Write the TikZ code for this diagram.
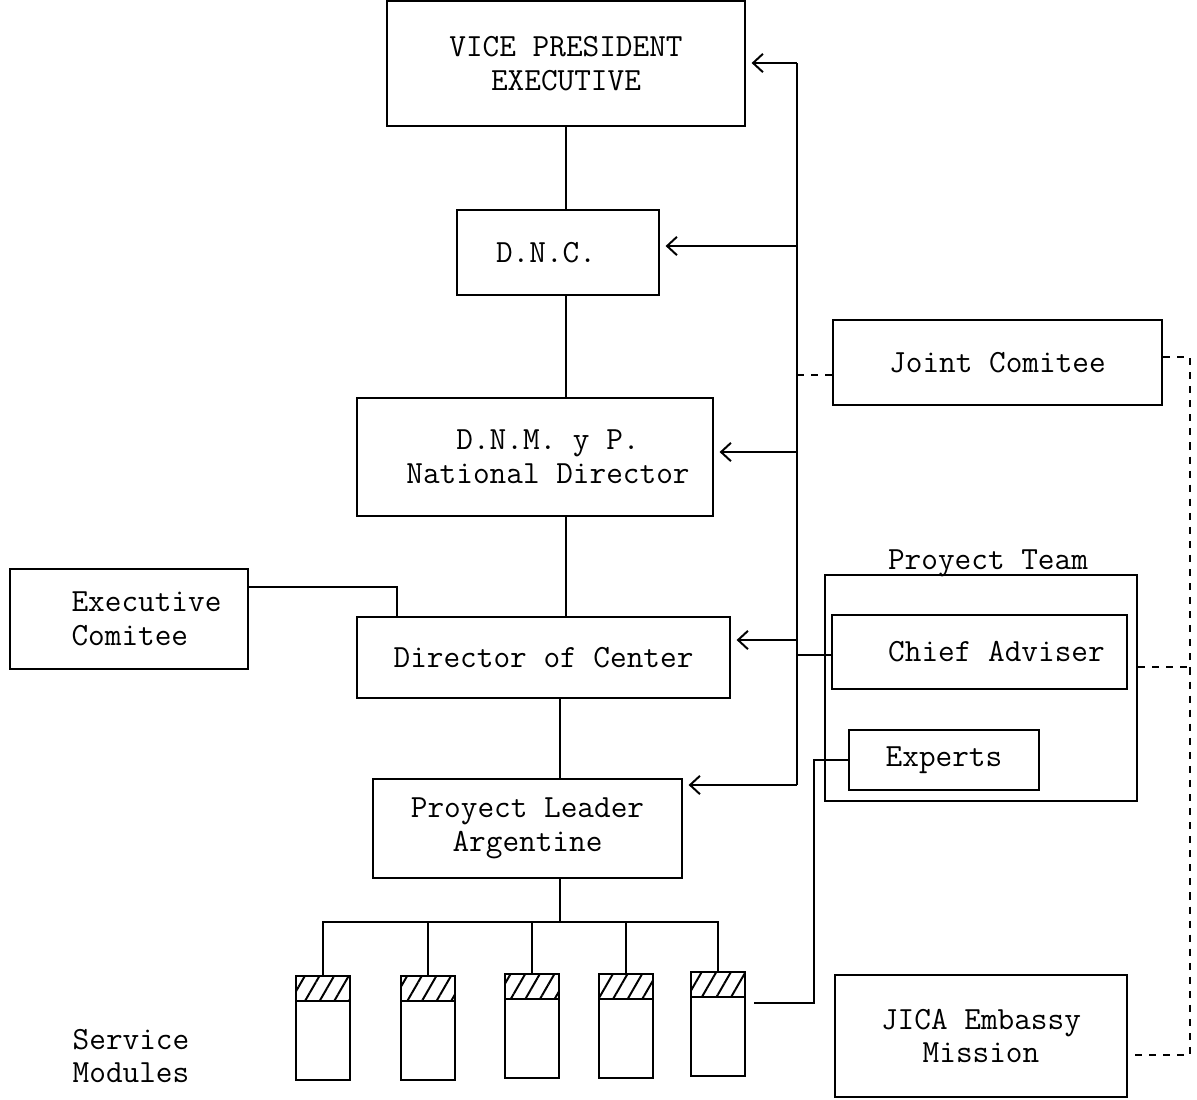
\documentclass[tikz,border=0pt]{standalone}
\usepackage{fontspec}
\usetikzlibrary{arrows.meta,patterns.meta}
\newcommand{\orgfont}{\ttfamily\fontsize{23}{24}\selectfont}
\tikzset{
  unit/.style 2 args={draw,inner sep=0pt,align=center,font=\orgfont,
    minimum width=#1*0.025cm,minimum height=#2*0.025cm},
  feed/.style={-{Straight Barb[length=7pt,width=13pt]},shorten >=4pt},
  link/.style={dash pattern=on 5pt off 5pt},
  hatch/.style={pattern={Lines[angle=60,distance=9pt,line width=1.4pt]}}
}

\begin{document}
\begin{tikzpicture}[x=0.025cm,y=-0.025cm,line width=1.4pt]
\path[use as bounding box] (0,0) rectangle (1197,1099);
% hierarchy
\node[unit={358}{125}] (vp) at (566,63.5) {VICE PRESIDENT\\EXECUTIVE};
\node[unit={202}{85}] (dnc) at (558,252.5) {D.N.C.\hspace*{0.6cm}};
\node[unit={356}{118}] (dnm) at (535,457) {\hspace*{0.65cm}D.N.M. y P.\\\hspace*{0.65cm}National Director};
\node[unit={373}{81}] (doc) at (543.5,657.5) {Director of Center};
\node[unit={238}{100},align=left] (exc) at (129,619) {\hspace*{0.875cm}Executive\\\hspace*{0.875cm}Comitee};
\node[unit={309}{99}] (pla) at (527.5,828.5) {Proyect Leader\\Argentine};
% japanese side
\node[unit={329}{85}] (jc) at (997.5,362.5) {Joint Comitee};
\node[unit={312}{226}] (team) at (981,688) {};
\node[font=\orgfont,inner sep=0pt] (teamlbl) at (988,563) {Proyect Team};
\node[unit={295}{74}] (ca) at (979.5,652) {\hspace*{0.85cm}Chief Adviser};
\node[unit={190}{60}] (exp) at (944,760) {Experts};
\node[unit={292}{122}] (jica) at (981,1036) {JICA Embassy\\Mission};
% modules
\node[font=\orgfont,align=left,inner sep=0pt] (svc) at (131,1056) {Service\\Modules};
\foreach \i/\mx/\my in {1/323/1028,2/428/1028,3/532/1026,4/626/1026,5/718/1024}{
  \node[unit={54}{104}] (mod\i) at (\mx,\my) {};
  \node[unit={54}{25},hatch,anchor=north] (hat\i) at (mod\i.north) {};
}
\coordinate (bus) at (560,922);
\draw (bus |- pla.south) -- (bus);
\draw (mod1.north) -- (mod1.north |- bus) -- (mod5.north |- bus) -- (mod5.north);
\foreach \i in {2,3,4}
  \draw (mod\i.north) -- (mod\i.north |- bus);
% spine
\draw (vp.south) -- (vp.south |- dnc.north);
\draw (vp.south |- dnc.south) -- (vp.south |- dnm.north);
\draw (vp.south |- dnm.south) -- (vp.south |- doc.north);
\draw (bus |- doc.south) -- (bus |- pla.north);
\coordinate (ek) at (397,587);
\draw (ek -| exc.east) -- (ek) -- (ek |- doc.north);
% rail with arrows
\coordinate (r1) at (797,63);
\coordinate (r2) at (797,246);
\coordinate (r3) at (797,452);
\coordinate (r4) at (797,640);
\coordinate (r5) at (797,785);
\coordinate (rj) at (797,375);
\coordinate (rc) at (797,655);
\draw (r1) -- (r5);
\draw[feed] (r1) -- (r1 -| vp.east);
\draw[feed] (r2) -- (r2 -| dnc.east);
\draw[feed] (r3) -- (r3 -| dnm.east);
\draw[feed] (r4) -- (r4 -| doc.east);
\draw[feed] (r5) -- (r5 -| pla.east);
\draw[link] (rj) -- (rj -| jc.west);
\draw (rc) -- (rc -| ca.west);
% experts to modules
\coordinate (xk) at (814,1003);
\draw[shorten >=0.2cm] (exp.west) -| (xk) -- (xk -| mod5.east);
% dashed line on the right
\coordinate (d1) at (1190,357);
\coordinate (d2) at (1190,667);
\coordinate (d3) at (1190,1055);
\draw[link] (d1 -| jc.east) -- (d1) -- (d3) -- (d3 -| jica.east);
\draw[link] (d2 -| team.east) -- (d2);
\end{tikzpicture}
\end{document}
